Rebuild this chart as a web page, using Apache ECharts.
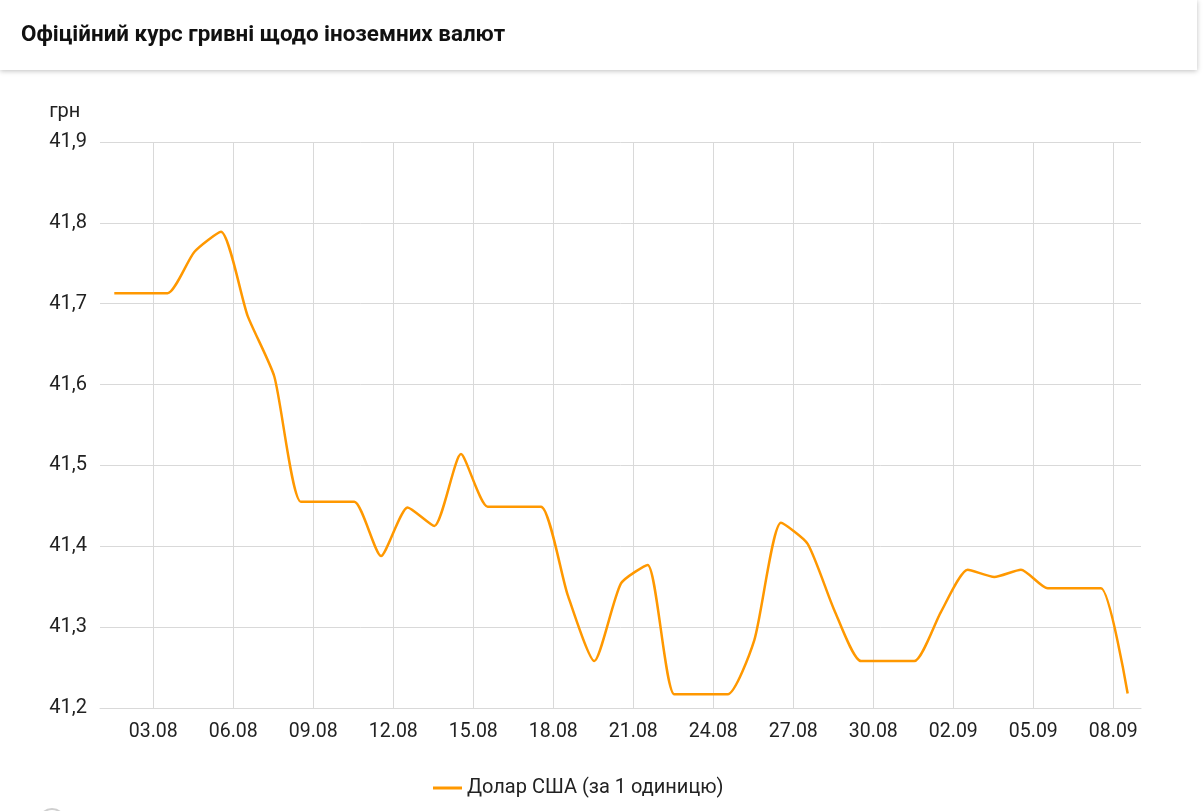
<!DOCTYPE html>
<html>
<head>
<meta charset="utf-8">
<style>
html,body{margin:0;padding:0;background:#fff;}
#chart{width:1203px;height:811px;}
</style>
<script src="https://cdn.jsdelivr.net/npm/echarts@6/dist/echarts.min.js"></script>
</head>
<body>
<div id="chart"></div>
<script>
// Dates of the data points (01.08 .. 08.09)
const dates = ['01.08','02.08','03.08','04.08','05.08','06.08','07.08','08.08','09.08','10.08',
  '11.08','12.08','13.08','14.08','15.08','16.08','17.08','18.08','19.08','20.08',
  '21.08','22.08','23.08','24.08','25.08','26.08','27.08','28.08','29.08','30.08',
  '31.08','01.09','02.09','03.09','04.09','05.09','06.09','07.09','08.09'];
// USD rate, UAH per 1 unit
const usdValues = [41.713,41.713,41.713,41.764,41.789,41.685,41.610,41.455,41.455,41.455,
  41.388,41.448,41.425,41.514,41.449,41.449,41.449,41.340,41.258,41.354,
  41.377,41.217,41.217,41.217,41.284,41.429,41.403,41.321,41.258,41.258,
  41.258,41.319,41.371,41.362,41.371,41.348,41.348,41.348,41.218];
// X tick labels
const xTickLabels = ['03.08','06.08','09.08','12.08','15.08','18.08','21.08','24.08','27.08','30.08','02.09','05.09','08.09'];
const seriesName = 'Долар США (за 1 одиницю)';
const titleText = 'Офіційний курс гривні щодо іноземних валют';
const yName = 'грн';

const tickOffset = 1.4625;
const tickPositions = xTickLabels.map((_, k) => tickOffset + 3 * k);
const seriesData = usdValues.map((v, i) => [i, v]);

const chart = echarts.init(document.getElementById('chart'), null, {renderer: 'canvas'});
const FONT = 'Roboto, "Liberation Sans", Arial, sans-serif';
chart.setOption({
  animation: false,
  backgroundColor: '#fff',
  textStyle: {fontFamily: FONT},
  graphic: [{
    type: 'rect', z: -1,
    shape: {x: 0, y: 0, width: 1197, height: 70},
    style: {fill: '#fff', shadowBlur: 5, shadowColor: 'rgba(0,0,0,0.25)', shadowOffsetY: 1}
  }, {
    type: 'circle', z: -1,
    shape: {cx: 52, cy: 822, r: 13},
    style: {fill: 'none', stroke: '#cfcfcf', lineWidth: 2}
  }],
  title: {
    text: titleText, left: 16, top: 19,
    textStyle: {fontFamily: FONT, fontSize: 22.4, fontWeight: 'bold', color: '#111'}
  },
  grid: {left: 100, right: 62, top: 142, bottom: 103, containLabel: false},
  legend: {
    left: 428, top: 773,
    icon: 'rect', itemWidth: 29, itemHeight: 3, itemGap: 10,
    textStyle: {fontFamily: FONT, fontSize: 20, color: '#222'},
    data: [seriesName]
  },
  xAxis: {
    type: 'value', min: -0.536, max: 38.5,
    axisLine: {show: true, lineStyle: {color: '#d9d9d9', width: 1}},
    axisTick: {show: false, customValues: tickPositions},
    splitLine: {show: true, lineStyle: {color: '#d9d9d9', width: 1}},
    axisLabel: {
      customValues: tickPositions,
      margin: 14, fontSize: 19.5, color: '#222', fontFamily: FONT,
      formatter: v => {
        const k = Math.round((v - tickOffset) / 3);
        return xTickLabels[k] || '';
      }
    }
  },
  yAxis: {
    type: 'value', min: 41.2, max: 41.9, interval: 0.1,
    name: yName, nameLocation: 'end', nameGap: 20,
    nameTextStyle: {fontSize: 20, color: '#222', align: 'right', padding: [0, 34, 0, 0], fontFamily: FONT},
    axisLine: {show: false}, axisTick: {show: false},
    splitLine: {show: true, lineStyle: {color: '#d9d9d9', width: 1}},
    axisLabel: {
      margin: 13, fontSize: 20, color: '#222', fontFamily: FONT,
      formatter: v => v.toFixed(1).replace('.', ',')
    }
  },
  series: [{
    name: seriesName, type: 'line', data: seriesData,
    smooth: 0.2, symbol: 'none',
    lineStyle: {color: '#ff9800', width: 2.5},
    itemStyle: {color: '#ff9800'}
  }]
});
</script>
</body>
</html>
